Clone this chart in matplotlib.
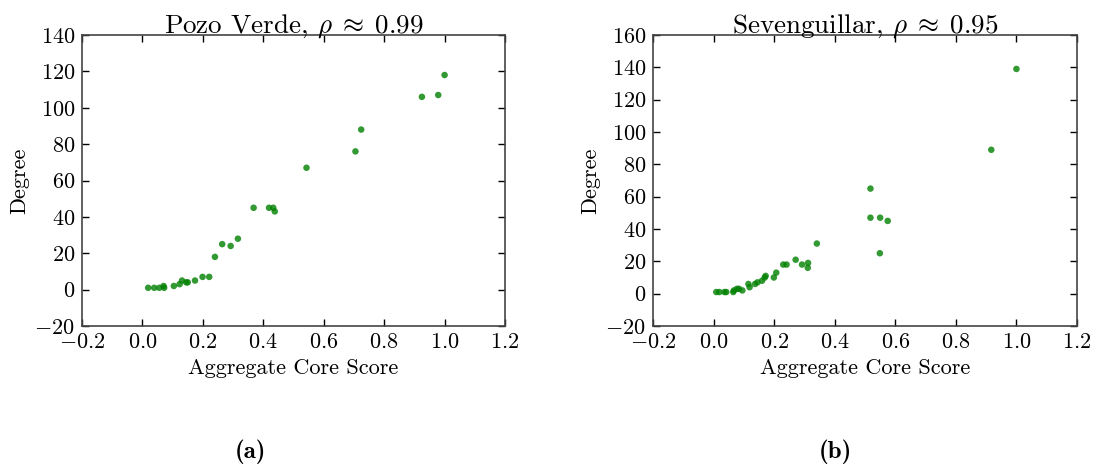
import matplotlib
matplotlib.use("Agg")
import matplotlib.pyplot as plt

plt.rcParams['font.family'] = 'serif'
plt.rcParams['font.serif'] = ['cmr10']
plt.rcParams['mathtext.fontset'] = 'cm'
plt.rcParams['axes.formatter.use_mathtext'] = True
plt.rcParams['axes.unicode_minus'] = True

pozo_x = [0.019, 0.039, 0.056, 0.070, 0.072, 0.104, 0.123, 0.131, 0.145, 0.150,
          0.174, 0.199, 0.221, 0.240, 0.264, 0.292, 0.316, 0.368, 0.419, 0.433,
          0.438, 0.543, 0.705, 0.724, 0.925, 0.979, 1.0]
pozo_y = [1, 1, 1, 2, 1, 2, 3, 5, 4, 4,
          5, 7, 7, 18, 25, 24, 28, 45, 45, 45,
          43, 67, 76, 88, 106, 107, 118]

seven_x = [0.009, 0.019, 0.036, 0.042, 0.065, 0.067, 0.077, 0.084, 0.095, 0.115,
           0.119, 0.137, 0.145, 0.160, 0.169, 0.172, 0.199, 0.207, 0.230, 0.241,
           0.271, 0.292, 0.312, 0.311, 0.341, 0.518, 0.518, 0.550, 0.575, 0.549,
           0.917, 1.0]
seven_y = [1, 1, 1, 1, 1, 2, 3, 3, 2, 6,
           4, 6, 7, 8, 10, 11, 10, 13, 18, 18,
           21, 18, 19, 16, 31, 65, 47, 47, 45, 25,
           89, 139]

panels = [
    ("Pozo Verde, $\\rho\\;\\approx\\;0.99$", pozo_x, pozo_y, (-20, 140), "(a)"),
    ("Sevenguillar, $\\rho\\;\\approx\\;0.95$", seven_x, seven_y, (-20, 160), "(b)"),
]

W, H = 1098, 471
fig = plt.figure(figsize=(W / 100, H / 100), dpi=100)
boxes = [(82, 35, 505, 326), (653, 35, 1077, 326)]
label_x = [250, 835]

for (title, xs, ys, ylim, lab), (l, t, r, b), lx in zip(panels, boxes, label_x):
    ax = fig.add_axes([l / W, 1 - b / H, (r - l) / W, (b - t) / H])
    ax.scatter(xs, ys, s=22, color='g', alpha=0.8, edgecolors='none')
    ax.set_xlim(-0.2, 1.2)
    ax.set_ylim(*ylim)
    ax.set_xticks([-0.2, 0.0, 0.2, 0.4, 0.6, 0.8, 1.0, 1.2])
    ax.set_yticks(range(ylim[0], ylim[1] + 1, 20))
    ax.tick_params(direction='in', top=True, right=True, length=5, width=1,
                   labelsize=16, pad=5)
    for sp in ax.spines.values():
        sp.set_color('#444444')
        sp.set_linewidth(1.2)
    ax.set_title(title, fontsize=19.5, pad=2)
    ax.set_xlabel("Aggregate Core Score", fontsize=16, labelpad=4)
    ax.set_ylabel("Degree", fontsize=16, labelpad=4)
    fig.text(lx / W, 1 - 452 / H, lab, fontsize=18, ha='center', va='center',
             family='cmb10')

fig.savefig("out.png", dpi=100)
